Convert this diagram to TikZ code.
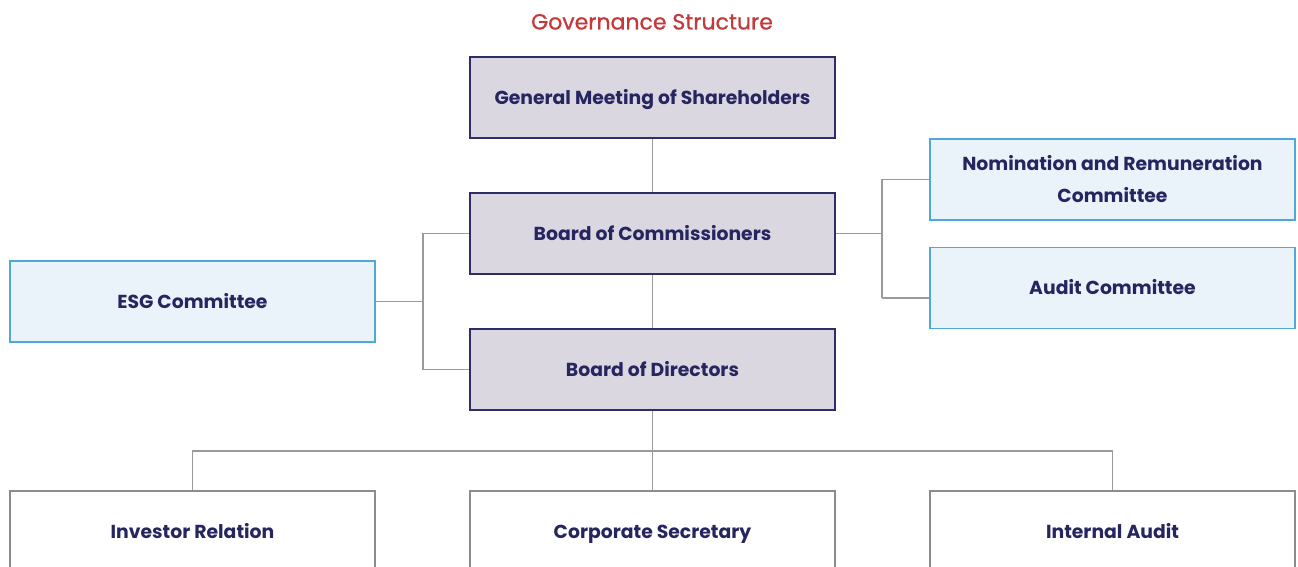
\documentclass[tikz,border=0pt]{standalone}
\usepackage{fontspec}
\setmainfont{Poppins}
\newfontfamily\titlefont[FakeBold=0.8]{Poppins}
\usetikzlibrary{calc}
\definecolor{navy}{HTML}{262560}
\definecolor{navyborder}{HTML}{2E2D66}
\definecolor{grayfill}{HTML}{DAD7E1}
\definecolor{bluefill}{HTML}{EAF2FA}
\definecolor{blueborder}{HTML}{4FA8D8}
\definecolor{linegray}{HTML}{9A9A9A}
\definecolor{boxgray}{HTML}{8C8C8C}
\definecolor{titlered}{HTML}{C4393B}
\tikzset{
  basebox/.style={rectangle, minimum width=365pt, minimum height=81pt, inner sep=0pt,
    align=center, text=navy, font=\fontsize{18.8}{32}\selectfont\bfseries, line width=1.1pt,
    text height=13.2pt, text depth=0pt},
  mainbox/.style={basebox, fill=grayfill, draw=navyborder},
  combox/.style={basebox, fill=bluefill, draw=blueborder},
  unitbox/.style={basebox, fill=white, draw=boxgray},
  conn/.style={draw=linegray, line width=1.1pt}
}
\begin{document}
\begin{tikzpicture}[x=1pt,y=-1pt]
\useasboundingbox (0,0) rectangle (1298,567);
\clip (0,0) rectangle (1298,567);
\node[text=titlered, font=\fontsize{22}{26}\selectfont\titlefont, text height=15pt, text depth=0pt, inner sep=0pt] (title) at (652,22) {Governance Structure};
\node[mainbox] (gms) at (652.5,97.5) {General Meeting of Shareholders};
\node[mainbox] (boc) at (652.5,233.5) {Board of Commissioners};
\node[mainbox] (bod) at (652.5,369.5) {Board of Directors};
\node[combox] (esg) at (192.5,301.5) {ESG Committee};
\node[combox, text height=45.2pt] (nrc) at (1112.5,179.5) {Nomination and Remuneration\\Committee};
\node[combox] (aud) at (1112.5,288) {Audit Committee};
\node[unitbox] (ir) at (192.5,531.5) {Investor Relation};
\node[unitbox] (cs) at (652.5,531.5) {Corporate Secretary};
\node[unitbox] (ia) at (1112.5,531.5) {Internal Audit};
\coordinate (rj) at (882,0);
\coordinate (lj) at (423,0);
\coordinate (bj) at (0,451);
\draw[conn] (gms.south) -- (boc.north);
\draw[conn] (boc.south) -- (bod.north);
\draw[conn] (boc.east) -| (rj |- nrc.west) -- (nrc.west);
\draw[conn] (rj |- boc.east) -- (rj |- aud.west) ++(0,10) coordinate (audj) -- ($(aud.west)+(0,10)$);
\draw[conn] (rj |- nrc.west) -- (audj);
\draw[conn] (esg.east) -- (lj |- esg.east);
\draw[conn] (boc.west) -| (lj |- bod.west) -- (bod.west);
\draw[conn] (bod.south) -- (bj -| bod.south);
\draw[conn] (ir.north) |- (bj -| ia.north) -- (ia.north);
\draw[conn] (bj -| cs.north) -- (cs.north);
\end{tikzpicture}
\end{document}
